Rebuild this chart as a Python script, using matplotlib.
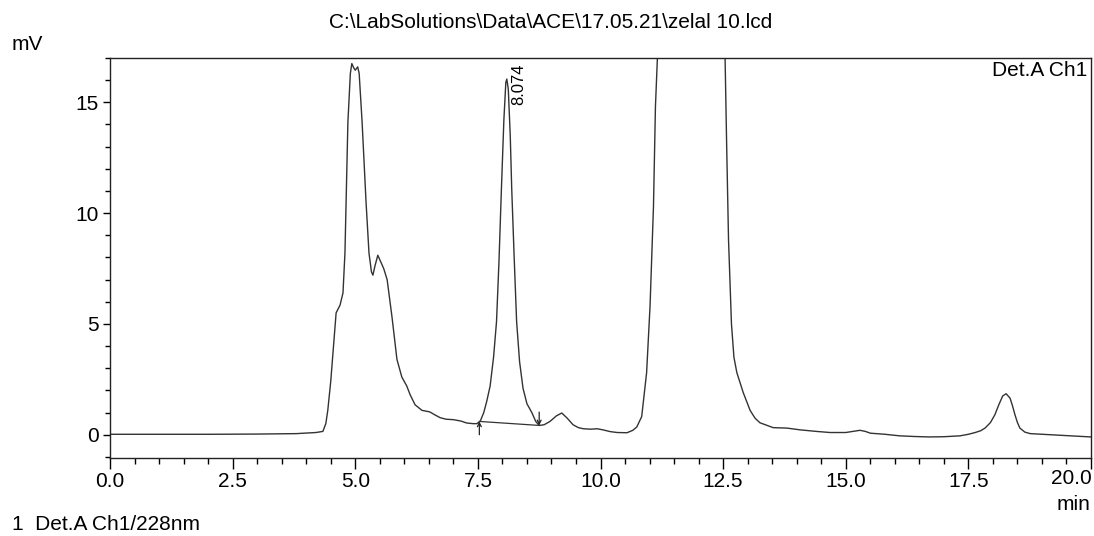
import matplotlib
matplotlib.use("Agg")
import matplotlib.pyplot as plt
from matplotlib.ticker import MultipleLocator, FuncFormatter

plt.rcParams['font.family'] = ['Liberation Sans', 'DejaVu Sans']

# Retention time (min) and detector signal (mV)
time_min = [0.0, 1.0, 2.0, 3.0, 3.8, 4.2, 4.34, 4.40, 4.44, 4.50, 4.55, 4.61, 4.69, 4.75, 4.79,
            4.85, 4.90, 4.93, 4.97, 5.0, 5.05, 5.08, 5.14, 5.22, 5.28, 5.33, 5.36, 5.40, 5.46,
            5.50, 5.58, 5.65, 5.75, 5.85, 5.95, 6.05, 6.12, 6.22, 6.36, 6.52, 6.62, 6.73,
            6.85, 7.0, 7.15, 7.27, 7.4, 7.48, 7.55, 7.62, 7.68, 7.75, 7.82, 7.88, 7.93,
            7.98, 8.03, 8.07, 8.09, 8.12, 8.16, 8.19, 8.24, 8.29, 8.35, 8.42, 8.5, 8.6,
            8.68, 8.75, 8.85, 8.97, 9.1, 9.21, 9.32, 9.44, 9.55, 9.65, 9.8, 9.93, 10.05,
            10.2, 10.34, 10.54, 10.66, 10.74, 10.84, 10.94, 11.01, 11.08, 11.12, 11.16,
            11.25, 11.5, 11.7, 12.0, 12.3, 12.5, 12.54, 12.57, 12.61, 12.67, 12.72, 12.78,
            12.91, 13.05, 13.15, 13.25, 13.52, 13.8, 14.07, 14.4, 14.68, 15.0, 15.15,
            15.29, 15.4, 15.5, 15.8, 16.1, 16.4, 16.7, 17.0, 17.33, 17.5, 17.64, 17.75,
            17.84, 17.95, 18.04, 18.12, 18.2, 18.27, 18.35, 18.4, 18.45, 18.5, 18.55,
            18.65, 18.76, 19.16, 19.57, 19.8, 20.0]
signal_mv = [0.02, 0.02, 0.02, 0.03, 0.05, 0.1, 0.15, 0.5, 1.1, 2.4, 3.8, 5.5, 5.85, 6.4, 8.2,
             14.1, 16.3, 16.75, 16.55, 16.45, 16.6, 16.3, 14.1, 10.5, 8.2, 7.35, 7.2, 7.6, 8.1,
             7.9, 7.5, 7.0, 5.3, 3.4, 2.6, 2.2, 1.8, 1.35, 1.1, 1.03, 0.9, 0.77,
             0.7, 0.68, 0.62, 0.53, 0.5, 0.5, 0.62, 1.0, 1.5, 2.2, 3.5, 5.1, 7.8,
             11.1, 14.2, 15.9, 16.05, 15.6, 13.5, 11.1, 8.0, 5.1, 3.3, 2.1, 1.4, 1.0,
             0.6, 0.42, 0.45, 0.6, 0.85, 0.98, 0.75, 0.45, 0.32, 0.27, 0.25, 0.27, 0.22,
             0.14, 0.1, 0.09, 0.2, 0.35, 0.82, 2.8, 5.8, 10.3, 14.8, 17.0,
             28.0, 55.0, 62.0, 55.0, 35.0, 19.0, 17.0, 13.3, 8.8, 5.0, 3.5, 2.8,
             1.9, 1.1, 0.75, 0.54, 0.32, 0.3, 0.22, 0.15, 0.1, 0.1, 0.15,
             0.2, 0.15, 0.07, 0.02, -0.05, -0.08, -0.1, -0.09, -0.05, 0.02, 0.1, 0.18,
             0.3, 0.55, 0.9, 1.35, 1.75, 1.85, 1.65, 1.3, 0.9, 0.55, 0.3,
             0.12, 0.05, 0.0, -0.05, -0.08, -0.1]

# Integrated peak
peak_rt = 8.074
peak_height = 16.05
baseline_t = [7.53, 8.75]
baseline_v = [0.60, 0.42]

title = r"C:\LabSolutions\Data\ACE\17.05.21\zelal 10.lcd"
channel = "Det.A Ch1"
footer = "1  Det.A Ch1/228nm"
x_max = 20.0

FS = 15

fig = plt.figure(figsize=(10.94, 5.36), dpi=100)
ax = fig.add_axes([110/1094, 78/536, 981/1094, 400/536])

ax.plot(time_min, signal_mv, color='#333333', lw=1.0)
ax.plot(baseline_t, baseline_v, color='#333333', lw=0.9)
ax.annotate('', xy=(baseline_t[0], baseline_v[0]), xytext=(baseline_t[0], baseline_v[0] - 0.6),
            arrowprops=dict(arrowstyle='->', lw=0.9, color='#222222', shrinkA=0, shrinkB=0,
                            mutation_scale=7))
ax.annotate('', xy=(baseline_t[1], baseline_v[1]), xytext=(baseline_t[1], baseline_v[1] + 0.6),
            arrowprops=dict(arrowstyle='->', lw=0.9, color='#222222', shrinkA=0, shrinkB=0,
                            mutation_scale=7))
ax.annotate(f"{peak_rt:.3f}", xy=(peak_rt, peak_height), xytext=(9, -19),
            textcoords='offset points', rotation=90, ha='center', va='bottom', fontsize=12)

ax.set_xlim(0, x_max)
ax.set_ylim(-1.05, 17.0)
ax.xaxis.set_major_locator(MultipleLocator(2.5))
ax.xaxis.set_minor_locator(MultipleLocator(0.5))
ax.yaxis.set_major_locator(MultipleLocator(5))
ax.yaxis.set_minor_locator(MultipleLocator(1))
# the last label is drawn right-aligned to the axis end (as in the instrument printout)
ax.xaxis.set_major_formatter(FuncFormatter(lambda v, p: '' if v >= x_max - 1e-9 else f"{v:.1f}"))
ax.tick_params(axis='x', which='major', length=8, width=1, labelsize=FS, pad=2)
ax.tick_params(axis='x', which='minor', length=4, width=1)
ax.tick_params(axis='y', which='major', length=5, width=1, labelsize=FS, pad=3)
ax.tick_params(axis='y', which='minor', length=3.5, width=1)
for s in ax.spines.values():
    s.set_color('#222222')
    s.set_linewidth(1.0)

fig.text(1092/1094, 1 - 469/536, f"{x_max:.1f}", ha='right', va='top', fontsize=FS)
fig.text(551/1094, 1 - 22/536, title, ha='center', va='center', fontsize=FS)
fig.text(12/1094, 1 - 45/536, "mV", ha='left', va='center', fontsize=FS)
fig.text(1090/1094, 1 - 505/536, "min", ha='right', va='center', fontsize=FS)
fig.text(12/1094, 1 - 525/536, footer, ha='left', va='center', fontsize=FS)
fig.text(1087/1094, 1 - 70/536, channel, ha='right', va='center', fontsize=FS)

fig.savefig('out.png', dpi=100, facecolor='white')
